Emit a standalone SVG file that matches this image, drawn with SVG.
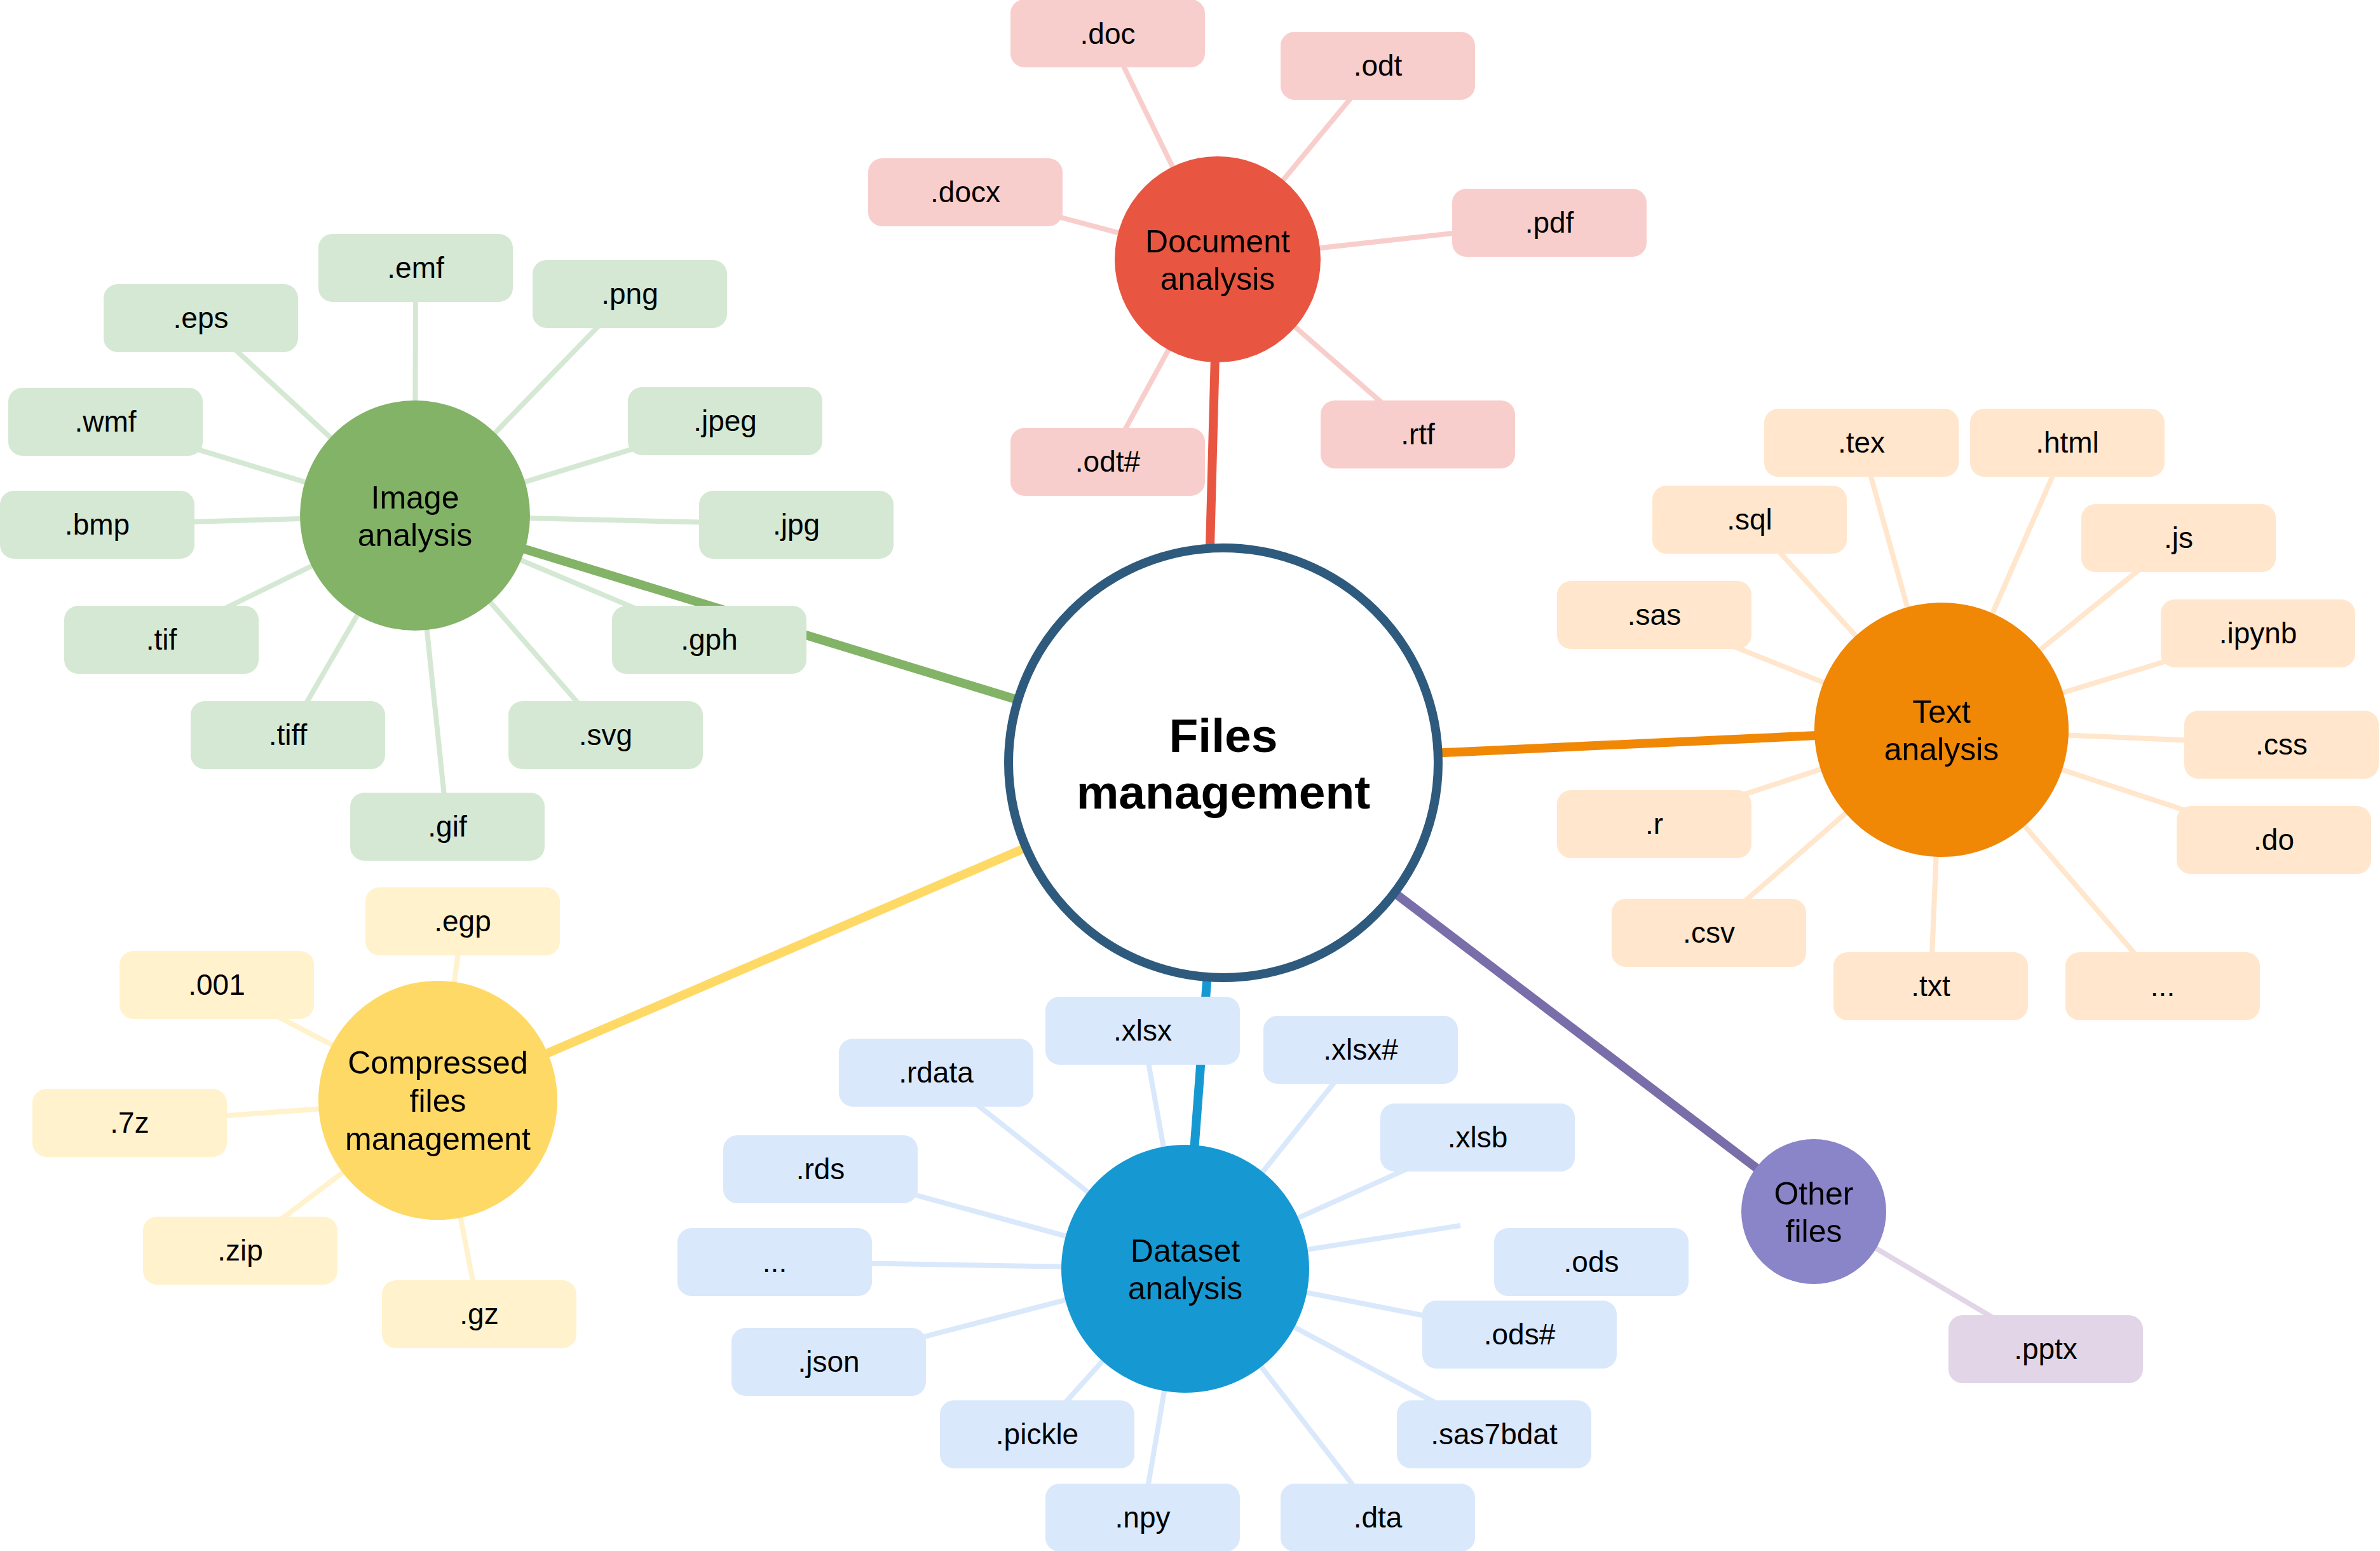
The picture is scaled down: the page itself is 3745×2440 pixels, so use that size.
<svg xmlns="http://www.w3.org/2000/svg" width="3745" height="2440" viewBox="0 0 3745 2440">
<style>
text{font-family:"Liberation Sans",Arial,sans-serif;fill:#000;text-anchor:middle}
.lbl{font-size:46px}
.cl{font-size:50px}
.main{font-size:75px;font-weight:bold}
.thin{stroke-width:8;fill:none}
.thick{stroke-width:14;fill:none}
.g-l{stroke:#d5e8d4}.g-f{fill:#d5e8d4}
.p-l{stroke:#f8cecc}.p-f{fill:#f8cecc}
.o-l{stroke:#ffe6cc}.o-f{fill:#ffe6cc}
.y-l{stroke:#fff2cc}.y-f{fill:#fff2cc}
.b-l{stroke:#dae8fc}.b-f{fill:#dae8fc}
.v-l{stroke:#e1d5e7}.v-f{fill:#e1d5e7}
</style>
<rect width="3745" height="2440" fill="#ffffff"/>
<g id="connectors">
<!-- main -->
<line class="thick" stroke="#e85642" x1="1895" y1="1200" x2="1916" y2="408"/>
<line class="thick" stroke="#82b366" x1="1925" y1="1200" x2="653" y2="811"/>
<line class="thick" stroke="#f08705" x1="1925" y1="1200" x2="3055" y2="1148"/>
<line class="thick" stroke="#ffd966" x1="1925" y1="1200" x2="689" y2="1731"/>
<line class="thick" stroke="#1699d3" x1="1925" y1="1200" x2="1865" y2="1996"/>
<line class="thick" stroke="#7a6eaa" x1="1925" y1="1200" x2="2854" y2="1906"/>
<!-- document -->
<g class="thin p-l">
<line x1="1916" y1="408" x2="1743" y2="53"/>
<line x1="1916" y1="408" x2="2168" y2="103"/>
<line x1="1916" y1="408" x2="1519" y2="302"/>
<line x1="1916" y1="408" x2="2438" y2="350"/>
<line x1="1916" y1="408" x2="2231" y2="683"/>
<line x1="1916" y1="408" x2="1743" y2="726"/>
</g>
<!-- image -->
<g class="thin g-l">
<line x1="653" y1="811" x2="654" y2="421"/>
<line x1="653" y1="811" x2="316" y2="500"/>
<line x1="653" y1="811" x2="991" y2="462"/>
<line x1="653" y1="811" x2="166" y2="663"/>
<line x1="653" y1="811" x2="1141" y2="662"/>
<line x1="653" y1="811" x2="153" y2="825"/>
<line x1="653" y1="811" x2="1253" y2="825"/>
<line x1="653" y1="811" x2="254" y2="1006"/>
<line x1="653" y1="811" x2="1116" y2="1006"/>
<line x1="653" y1="811" x2="453" y2="1156"/>
<line x1="653" y1="811" x2="953" y2="1156"/>
<line x1="653" y1="811" x2="704" y2="1300"/>
</g>
<!-- text -->
<g class="thin o-l">
<line x1="3055" y1="1148" x2="2929" y2="696"/>
<line x1="3055" y1="1148" x2="3253" y2="696"/>
<line x1="3055" y1="1148" x2="2753" y2="817"/>
<line x1="3055" y1="1148" x2="3428" y2="846"/>
<line x1="3055" y1="1148" x2="2603" y2="967"/>
<line x1="3055" y1="1148" x2="3553" y2="996"/>
<line x1="3055" y1="1148" x2="3590" y2="1171"/>
<line x1="3055" y1="1148" x2="2603" y2="1296"/>
<line x1="3055" y1="1148" x2="3578" y2="1321"/>
<line x1="3055" y1="1148" x2="2689" y2="1467"/>
<line x1="3055" y1="1148" x2="3038" y2="1551"/>
<line x1="3055" y1="1148" x2="3403" y2="1551"/>
</g>
<!-- compressed -->
<g class="thin y-l">
<line x1="689" y1="1731" x2="728" y2="1449"/>
<line x1="689" y1="1731" x2="341" y2="1549"/>
<line x1="689" y1="1731" x2="204" y2="1766"/>
<line x1="689" y1="1731" x2="378" y2="1967"/>
<line x1="689" y1="1731" x2="754" y2="2067"/>
</g>
<!-- dataset -->
<g class="thin b-l">
<line x1="1865" y1="1996" x2="1798" y2="1621"/>
<line x1="1865" y1="1996" x2="2141" y2="1651"/>
<line x1="1865" y1="1996" x2="1473" y2="1687"/>
<line x1="1865" y1="1996" x2="2325" y2="1789"/>
<line x1="1865" y1="1996" x2="1291" y2="1839"/>
<line x1="1865" y1="1996" x2="1219" y2="1985"/>
<line x1="1865" y1="1996" x2="2298" y2="1928"/>
<line x1="1865" y1="1996" x2="2391" y2="2099"/>
<line x1="1865" y1="1996" x2="1304" y2="2142"/>
<line x1="1865" y1="1996" x2="1632" y2="2256"/>
<line x1="1865" y1="1996" x2="2351" y2="2256"/>
<line x1="1865" y1="1996" x2="1798" y2="2387"/>
<line x1="1865" y1="1996" x2="2168" y2="2387"/>
</g>
<!-- other -->
<line class="thin v-l" x1="2854" y1="1906" x2="3219" y2="2122"/>
</g>

<g id="center">
<circle cx="1925" cy="1200" r="338" fill="#ffffff" stroke="#2e5b7d" stroke-width="14"/>
<text class="main" x="1925" y="1183">Files</text>
<text class="main" x="1925" y="1272">management</text>
</g>

<g id="document">
<circle cx="1916" cy="408" r="162" fill="#e85642"/>
<text class="cl" x="1916" y="397">Document</text>
<text class="cl" x="1916" y="456">analysis</text>
</g>
<g id="doc-doc"><rect class="p-f" x="1590" y="-1" width="306" height="107" rx="22"/><text class="lbl" x="1743" y="69">.doc</text></g>
<g id="doc-odt"><rect class="p-f" x="2015" y="50" width="306" height="107" rx="22"/><text class="lbl" x="2168" y="119">.odt</text></g>
<g id="doc-docx"><rect class="p-f" x="1366" y="249" width="306" height="107" rx="22"/><text class="lbl" x="1519" y="318">.docx</text></g>
<g id="doc-pdf"><rect class="p-f" x="2285" y="297" width="306" height="107" rx="22"/><text class="lbl" x="2438" y="366">.pdf</text></g>
<g id="doc-rtf"><rect class="p-f" x="2078" y="630" width="306" height="107" rx="22"/><text class="lbl" x="2231" y="699">.rtf</text></g>
<g id="doc-odth"><rect class="p-f" x="1590" y="673" width="306" height="107" rx="22"/><text class="lbl" x="1743" y="742">.odt#</text></g>

<g id="image">
<circle cx="653" cy="811" r="181" fill="#82b366"/>
<text class="cl" x="653" y="800">Image</text>
<text class="cl" x="653" y="859">analysis</text>
</g>
<g id="img-emf"><rect class="g-f" x="501" y="368" width="306" height="107" rx="22"/><text class="lbl" x="654" y="437">.emf</text></g>
<g id="img-eps"><rect class="g-f" x="163" y="447" width="306" height="107" rx="22"/><text class="lbl" x="316" y="516">.eps</text></g>
<g id="img-png"><rect class="g-f" x="838" y="409" width="306" height="107" rx="22"/><text class="lbl" x="991" y="478">.png</text></g>
<g id="img-wmf"><rect class="g-f" x="13" y="610" width="306" height="107" rx="22"/><text class="lbl" x="166" y="679">.wmf</text></g>
<g id="img-jpeg"><rect class="g-f" x="988" y="609" width="306" height="107" rx="22"/><text class="lbl" x="1141" y="678">.jpeg</text></g>
<g id="img-bmp"><rect class="g-f" x="0" y="772" width="306" height="107" rx="22"/><text class="lbl" x="153" y="841">.bmp</text></g>
<g id="img-jpg"><rect class="g-f" x="1100" y="772" width="306" height="107" rx="22"/><text class="lbl" x="1253" y="841">.jpg</text></g>
<g id="img-tif"><rect class="g-f" x="101" y="953" width="306" height="107" rx="22"/><text class="lbl" x="254" y="1022">.tif</text></g>
<g id="img-gph"><rect class="g-f" x="963" y="953" width="306" height="107" rx="22"/><text class="lbl" x="1116" y="1022">.gph</text></g>
<g id="img-tiff"><rect class="g-f" x="300" y="1103" width="306" height="107" rx="22"/><text class="lbl" x="453" y="1172">.tiff</text></g>
<g id="img-svg"><rect class="g-f" x="800" y="1103" width="306" height="107" rx="22"/><text class="lbl" x="953" y="1172">.svg</text></g>
<g id="img-gif"><rect class="g-f" x="551" y="1247" width="306" height="107" rx="22"/><text class="lbl" x="704" y="1316">.gif</text></g>

<g id="text">
<circle cx="3055" cy="1148" r="200" fill="#f08705"/>
<text class="cl" x="3055" y="1137">Text</text>
<text class="cl" x="3055" y="1196">analysis</text>
</g>
<g id="txt-tex"><rect class="o-f" x="2776" y="643" width="306" height="107" rx="22"/><text class="lbl" x="2929" y="712">.tex</text></g>
<g id="txt-html"><rect class="o-f" x="3100" y="643" width="306" height="107" rx="22"/><text class="lbl" x="3253" y="712">.html</text></g>
<g id="txt-sql"><rect class="o-f" x="2600" y="764" width="306" height="107" rx="22"/><text class="lbl" x="2753" y="833">.sql</text></g>
<g id="txt-js"><rect class="o-f" x="3275" y="793" width="306" height="107" rx="22"/><text class="lbl" x="3428" y="862">.js</text></g>
<g id="txt-sas"><rect class="o-f" x="2450" y="914" width="306" height="107" rx="22"/><text class="lbl" x="2603" y="983">.sas</text></g>
<g id="txt-ipynb"><rect class="o-f" x="3400" y="943" width="306" height="107" rx="22"/><text class="lbl" x="3553" y="1012">.ipynb</text></g>
<g id="txt-css"><rect class="o-f" x="3437" y="1118" width="306" height="107" rx="22"/><text class="lbl" x="3590" y="1187">.css</text></g>
<g id="txt-r"><rect class="o-f" x="2450" y="1243" width="306" height="107" rx="22"/><text class="lbl" x="2603" y="1312">.r</text></g>
<g id="txt-do"><rect class="o-f" x="3425" y="1268" width="306" height="107" rx="22"/><text class="lbl" x="3578" y="1337">.do</text></g>
<g id="txt-csv"><rect class="o-f" x="2536" y="1414" width="306" height="107" rx="22"/><text class="lbl" x="2689" y="1483">.csv</text></g>
<g id="txt-txt"><rect class="o-f" x="2885" y="1498" width="306" height="107" rx="22"/><text class="lbl" x="3038" y="1567">.txt</text></g>
<g id="txt-more"><rect class="o-f" x="3250" y="1498" width="306" height="107" rx="22"/><text class="lbl" x="3403" y="1567">...</text></g>

<g id="compressed">
<circle cx="689" cy="1731" r="188" fill="#ffd966"/>
<text class="cl" x="689" y="1689">Compressed</text>
<text class="cl" x="689" y="1749">files</text>
<text class="cl" x="689" y="1809">management</text>
</g>
<g id="cmp-egp"><rect class="y-f" x="575" y="1396" width="306" height="107" rx="22"/><text class="lbl" x="728" y="1465">.egp</text></g>
<g id="cmp-001"><rect class="y-f" x="188" y="1496" width="306" height="107" rx="22"/><text class="lbl" x="341" y="1565">.001</text></g>
<g id="cmp-7z"><rect class="y-f" x="51" y="1713" width="306" height="107" rx="22"/><text class="lbl" x="204" y="1782">.7z</text></g>
<g id="cmp-zip"><rect class="y-f" x="225" y="1914" width="306" height="107" rx="22"/><text class="lbl" x="378" y="1983">.zip</text></g>
<g id="cmp-gz"><rect class="y-f" x="601" y="2014" width="306" height="107" rx="22"/><text class="lbl" x="754" y="2083">.gz</text></g>

<g id="dataset">
<circle cx="1865" cy="1996" r="195" fill="#1699d3"/>
<text class="cl" x="1865" y="1985">Dataset</text>
<text class="cl" x="1865" y="2044">analysis</text>
</g>
<g id="ds-xlsx"><rect class="b-f" x="1645" y="1568" width="306" height="107" rx="22"/><text class="lbl" x="1798" y="1637">.xlsx</text></g>
<g id="ds-xlsxh"><rect class="b-f" x="1988" y="1598" width="306" height="107" rx="22"/><text class="lbl" x="2141" y="1667">.xlsx#</text></g>
<g id="ds-rdata"><rect class="b-f" x="1320" y="1634" width="306" height="107" rx="22"/><text class="lbl" x="1473" y="1703">.rdata</text></g>
<g id="ds-xlsb"><rect class="b-f" x="2172" y="1736" width="306" height="107" rx="22"/><text class="lbl" x="2325" y="1805">.xlsb</text></g>
<g id="ds-rds"><rect class="b-f" x="1138" y="1786" width="306" height="107" rx="22"/><text class="lbl" x="1291" y="1855">.rds</text></g>
<g id="ds-more"><rect class="b-f" x="1066" y="1932" width="306" height="107" rx="22"/><text class="lbl" x="1219" y="2001">...</text></g>
<g id="ds-ods"><rect class="b-f" x="2351" y="1932" width="306" height="107" rx="22"/><text class="lbl" x="2504" y="2001">.ods</text></g>
<g id="ds-odsh"><rect class="b-f" x="2238" y="2046" width="306" height="107" rx="22"/><text class="lbl" x="2391" y="2115">.ods#</text></g>
<g id="ds-json"><rect class="b-f" x="1151" y="2089" width="306" height="107" rx="22"/><text class="lbl" x="1304" y="2158">.json</text></g>
<g id="ds-pickle"><rect class="b-f" x="1479" y="2203" width="306" height="107" rx="22"/><text class="lbl" x="1632" y="2272">.pickle</text></g>
<g id="ds-sas7bdat"><rect class="b-f" x="2198" y="2203" width="306" height="107" rx="22"/><text class="lbl" x="2351" y="2272">.sas7bdat</text></g>
<g id="ds-npy"><rect class="b-f" x="1645" y="2334" width="306" height="107" rx="22"/><text class="lbl" x="1798" y="2403">.npy</text></g>
<g id="ds-dta"><rect class="b-f" x="2015" y="2334" width="306" height="107" rx="22"/><text class="lbl" x="2168" y="2403">.dta</text></g>

<g id="other">
<circle cx="2854" cy="1906" r="114" fill="#8a84c8"/>
<text class="cl" x="2854" y="1895">Other</text>
<text class="cl" x="2854" y="1954">files</text>
</g>
<g id="oth-pptx"><rect class="v-f" x="3066" y="2069" width="306" height="107" rx="22"/><text class="lbl" x="3219" y="2138">.pptx</text></g>
</svg>
